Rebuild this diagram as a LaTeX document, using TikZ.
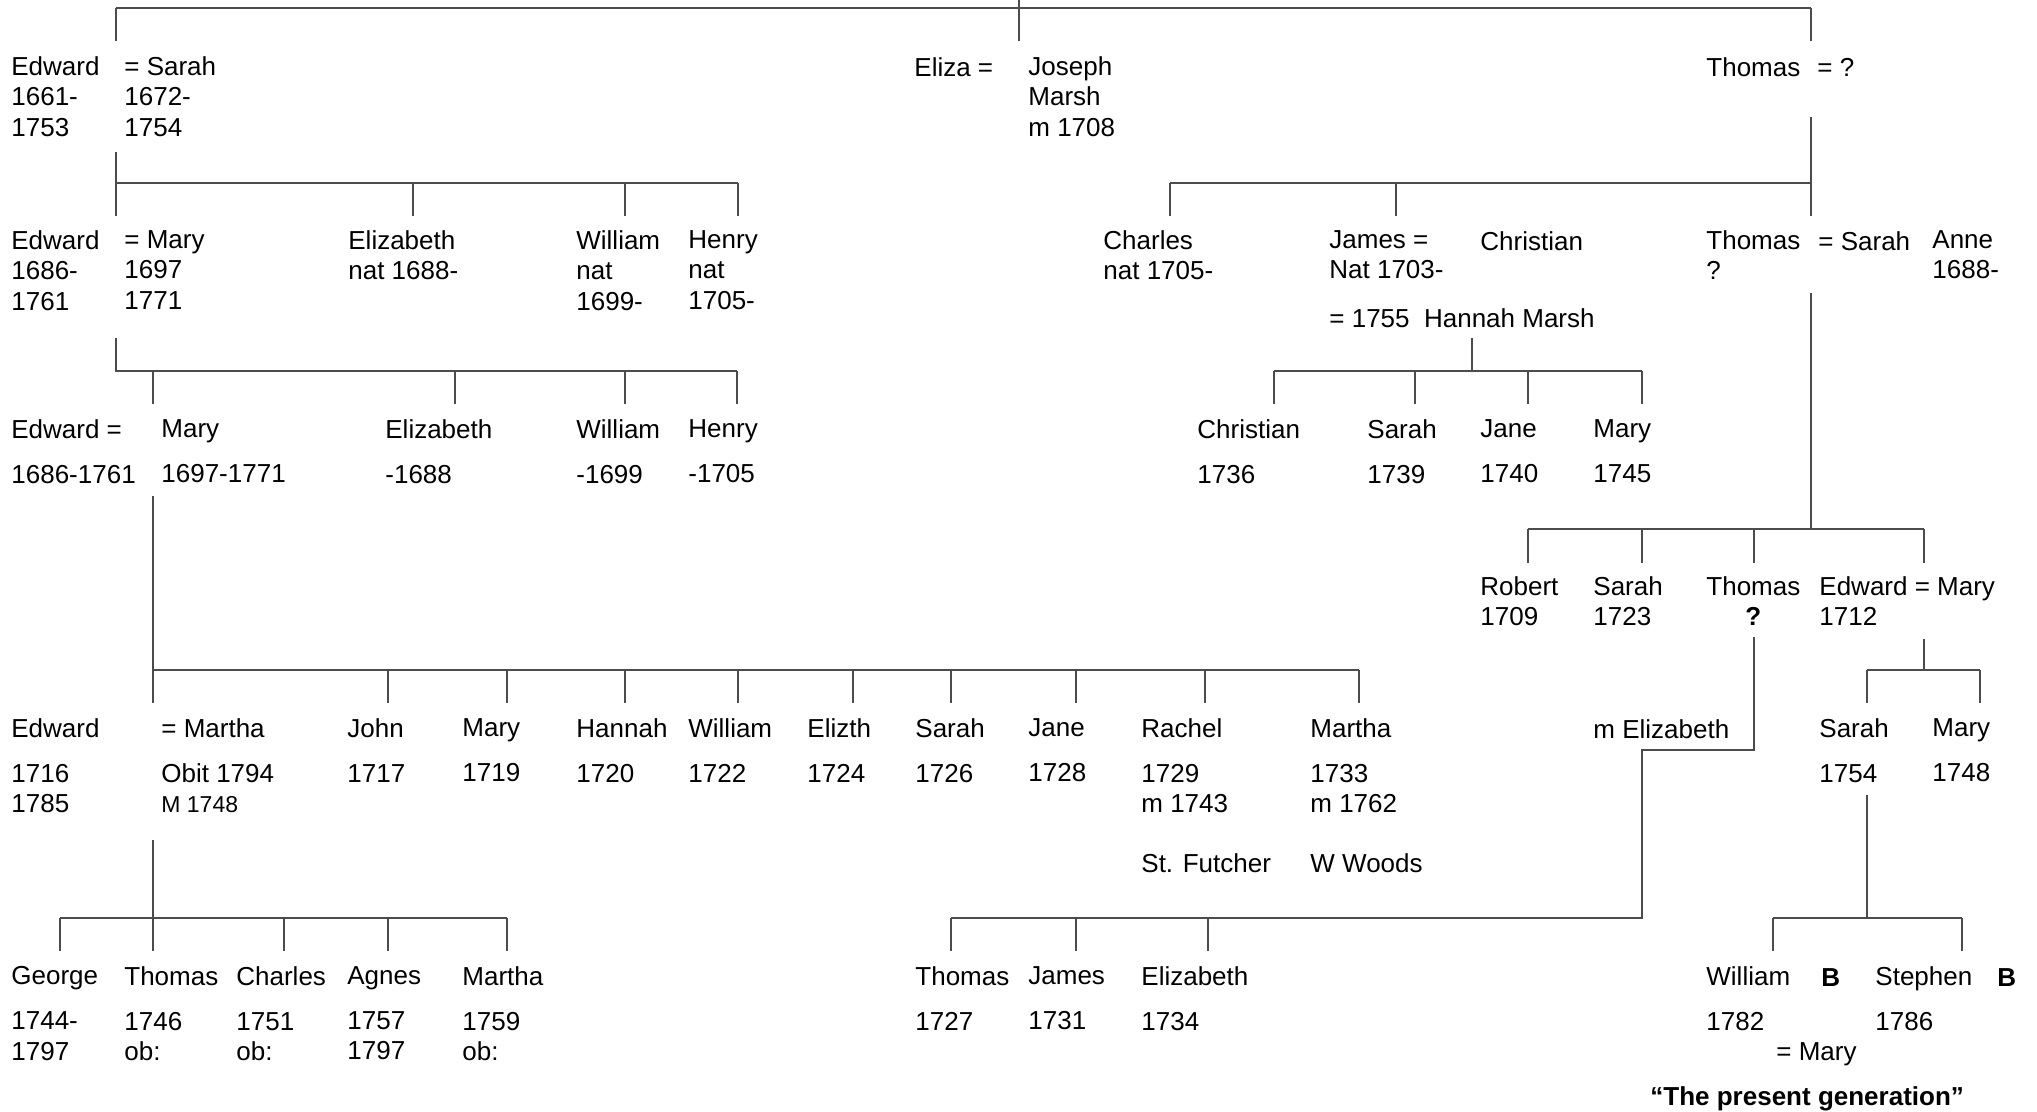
\documentclass[tikz,border=0pt]{standalone}
\usepackage{fontspec}
\setmainfont{Liberation Sans}
\usepackage{tikz}
\newcommand{\Gap}{\\[7.4pt]}
\newcommand{\Kids}[3]{\foreach \x in {#2} \draw[tie] (#1 -| \x,0) -- ++(0,#3);}
\tikzset{
    person/.style={anchor=north west, inner sep=0pt, align=left, yshift=9pt,
      font=\fontsize{13}{15.2}\selectfont, execute at begin node=\rule{0pt}{10pt}},
    tie/.style={draw=black!70, line width=0.7pt},
}

\begin{document}
\begin{tikzpicture}[x=0.5pt, y=-0.5pt]
    \useasboundingbox (0,0) rectangle (2037,1112);

    % first generation
    \node[person] (e1) at (11,74) {Edward\\1661-\\1753};
    \node[person] (s1) at (124,74) {= Sarah\\1672-\\1754};
    \node[person] (el1) at (914,74) {Eliza =};
    \node[person] (jm1) at (1028,74) {Joseph\\Marsh\\m 1708};
    \node[person] (t1) at (1706,74) {Thomas};
    \node[person] (q1) at (1817,74) {= ?};

    \node[person] (e2) at (11,248) {Edward\\1686-\\1761};
    \node[person] (m2) at (124,248) {= Mary\\1697\\1771};
    \node[person] (el2) at (348,248) {Elizabeth\\nat 1688-};
    \node[person] (w2) at (576,248) {William\\nat\\1699-};
    \node[person] (h2) at (688,248) {Henry\\nat\\1705-};
    \node[person] (c2) at (1103,248) {Charles\\nat 1705-};
    \node[person] (j2) at (1329,248) {James =\\Nat 1703-};
    \node[person] (ch2) at (1480,248) {Christian};
    \node[person] (t2) at (1706,248) {Thomas\\?};
    \node[person] (s2) at (1818,248) {= Sarah};
    \node[person] (a2) at (1932,248) {Anne\\1688-};
    \node[person] (hm2) at (1329,325) {= 1755\ \ Hannah Marsh};

    \node[person] (e3) at (11,437) {Edward =\Gap 1686-1761};
    \node[person] (m3) at (161,437) {Mary\Gap 1697-1771};
    \node[person] (el3) at (385,437) {Elizabeth\Gap -1688};
    \node[person] (w3) at (576,437) {William\Gap -1699};
    \node[person] (h3) at (688,437) {Henry\Gap -1705};
    \node[person] (ch3) at (1197,437) {Christian\Gap 1736};
    \node[person] (s3) at (1367,437) {Sarah\Gap 1739};
    \node[person] (j3) at (1480,437) {Jane\Gap 1740};
    \node[person] (m3b) at (1593,437) {Mary\Gap 1745};

    \node[person] (r4) at (1480,594) {Robert\\1709};
    \node[person] (s4) at (1593,594) {Sarah\\1723};
    \node[person, align=center] (t4) at (1706,594) {Thomas\\\textbf{?}};
    \node[person] (em4) at (1819,594) {Edward = Mary\\1712};

    \node[person] (e5) at (11,736) {Edward\Gap 1716\\1785};
    \node[person] (m5) at (161,736) {= Martha\Gap Obit 1794\\{\fontsize{11.5}{13}\selectfont M 1748}};
    \node[person] (jo5) at (347,736) {John\Gap 1717};
    \node[person] (ma5) at (462,736) {Mary\Gap 1719};
    \node[person] (ha5) at (576,736) {Hannah\Gap 1720};
    \node[person] (wi5) at (688,736) {William\Gap 1722};
    \node[person] (ez5) at (807,736) {Elizth\Gap 1724};
    \node[person] (sa5) at (915,736) {Sarah\Gap 1726};
    \node[person] (ja5) at (1028,736) {Jane\Gap 1728};
    \node[person] (ra5) at (1141,736) {Rachel\Gap 1729\\m 1743\\[14.8pt]St. Futcher};
    \node[person] (mr5) at (1310,736) {Martha\Gap 1733\\m 1762\\[14.8pt]W Woods};
    \node[person] (me5) at (1593,736) {m Elizabeth};
    \node[person] (sa5b) at (1819,736) {Sarah\Gap 1754};
    \node[person] (my5) at (1932,736) {Mary\Gap 1748};

    \node[person] (g6) at (11,984) {George\Gap 1744-\\1797};
    \node[person] (t6) at (124,984) {Thomas\Gap 1746\\ob:};
    \node[person] (c6) at (236,984) {Charles\Gap 1751\\ob:};
    \node[person] (ag6) at (347,984) {Agnes\Gap 1757\\1797};
    \node[person] (mt6) at (462,984) {Martha\Gap 1759\\ob:};
    \node[person] (th6) at (915,984) {Thomas\Gap 1727};
    \node[person] (ja6) at (1028,984) {James\Gap 1731};
    \node[person] (el6) at (1141,984) {Elizabeth\Gap 1734};
    \node[person] (wi6) at (1706,984) {William\Gap 1782};
    \node[person] (b6a) at (1821,984) {\textbf{B}};
    \node[person] (st6) at (1875,984) {Stephen\Gap 1786};
    \node[person] (b6b) at (1997,984) {\textbf{B}};
    \node[person] (wm6) at (1776,1058) {= Mary};
    \node[person] (pg) at (1650,1103) {\textbf{“The present generation”}};

    % lines of descent
    \coordinate (top) at (1019,0);
    \coordinate (topL) at (116,8);
    \coordinate (topR) at (1811,8);
    \draw[tie] (top) -- (top |- topL);
    \draw[tie] (topL) -- (topR);
    \Kids{topL}{116,1019,1811}{33}

    \coordinate (f1) at (116,152);
    \coordinate (f1L) at (116,183);
    \coordinate (f1R) at (738,183);
    \draw[tie] (f1) -- (f1L) -- (f1R);
    \Kids{f1L}{116,413,625,738}{33}

    \coordinate (g1) at (1811,117);
    \coordinate (g1L) at (1170,183);
    \coordinate (g1R) at (1811,183);
    \draw[tie] (g1) -- (g1R) -- (g1L);
    \Kids{g1L}{1170,1396,1811}{33}

    \coordinate (f2) at (116,338);
    \coordinate (f2L) at (116,371);
    \coordinate (f2R) at (737,371);
    \draw[tie] (f2) -- (f2L) -- (f2R);
    \Kids{f2L}{153,455,625,737}{33}

    \coordinate (g2) at (1472,338);
    \coordinate (g2L) at (1274,371);
    \coordinate (g2R) at (1642,371);
    \draw[tie] (g2) -- (g2 |- g2L);
    \draw[tie] (g2L) -- (g2R);
    \Kids{g2L}{1274,1415,1528,1642}{33}

    \coordinate (h2) at (1811,293);
    \coordinate (h2L) at (1528,529);
    \coordinate (h2R) at (1924,529);
    \draw[tie] (h2) -- (h2 |- h2L);
    \draw[tie] (h2L) -- (h2R);
    \Kids{h2L}{1528,1642,1754,1924}{34}

    \coordinate (f3) at (153,496);
    \coordinate (f3L) at (153,670);
    \coordinate (f3R) at (1359,670);
    \draw[tie] (f3) -- (f3L) -- (f3R);
    \Kids{f3L}{153,388,507,625,738,853,951,1076,1205,1359}{33}

    \coordinate (k4) at (1924,639);
    \coordinate (k4L) at (1867,670);
    \coordinate (k4R) at (1980,670);
    \draw[tie] (k4) -- (k4 |- k4L);
    \draw[tie] (k4L) -- (k4R);
    \Kids{k4L}{1867,1980}{33}

    \coordinate (t4q) at (1754,637);
    \coordinate (t4j) at (1754,750);
    \coordinate (g5R) at (1642,918);
    \coordinate (g5L) at (951,918);
    \draw[tie] (t4q) -- (t4j) -| (g5R) -- (g5L);
    \Kids{g5L}{951,1076,1208}{33}

    \coordinate (f5) at (153,840);
    \coordinate (f5L) at (60,918);
    \coordinate (f5R) at (507,918);
    \draw[tie] (f5) -- (f5 |- f5L);
    \draw[tie] (f5L) -- (f5R);
    \Kids{f5L}{60,153,284,388,507}{33}

    \coordinate (s5) at (1867,795);
    \coordinate (s5L) at (1773,918);
    \coordinate (s5R) at (1962,918);
    \draw[tie] (s5) -- (s5 |- s5L);
    \draw[tie] (s5L) -- (s5R);
    \Kids{s5L}{1773,1962}{33}

\end{tikzpicture}
\end{document}
